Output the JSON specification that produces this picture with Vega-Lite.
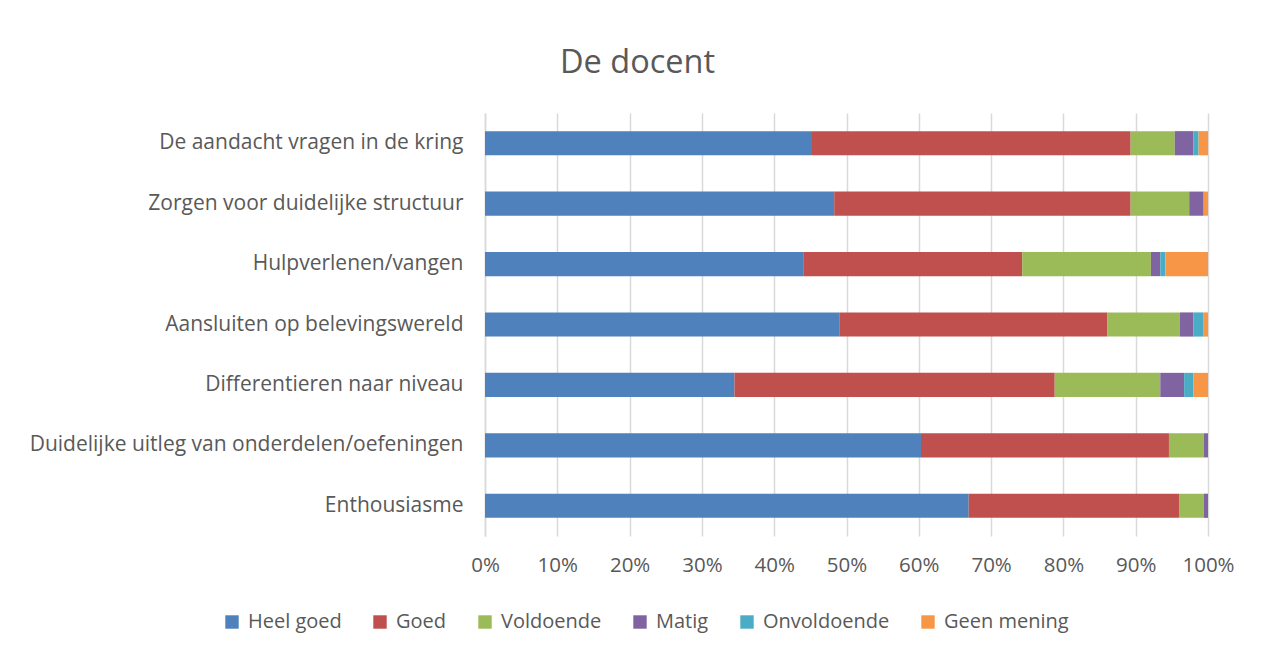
{
  "$schema": "https://vega.github.io/schema/vega-lite/v6.json",
  "width": 723,
  "height": 423,
  "autosize": {"type": "none"},
  "padding": {"left": 485, "top": 113, "right": 56, "bottom": 112},
  "background": "white",
  "title": {
    "text": "De docent",
    "fontSize": 32.5,
    "font": "Open Sans",
    "fontWeight": "normal",
    "color": "#595959",
    "anchor": "middle",
    "dx": -209,
    "offset": 34
  },
  "data": {
    "values": [
      {"item": "De aandacht vragen in de kring", "cat": "Heel goed", "value": 45.1},
      {"item": "De aandacht vragen in de kring", "cat": "Goed", "value": 44.2},
      {"item": "De aandacht vragen in de kring", "cat": "Voldoende", "value": 6.1},
      {"item": "De aandacht vragen in de kring", "cat": "Matig", "value": 2.6},
      {"item": "De aandacht vragen in de kring", "cat": "Onvoldoende", "value": 0.7},
      {"item": "De aandacht vragen in de kring", "cat": "Geen mening", "value": 1.3},
      {"item": "Zorgen voor duidelijke structuur", "cat": "Heel goed", "value": 48.3},
      {"item": "Zorgen voor duidelijke structuur", "cat": "Goed", "value": 41.0},
      {"item": "Zorgen voor duidelijke structuur", "cat": "Voldoende", "value": 8.1},
      {"item": "Zorgen voor duidelijke structuur", "cat": "Matig", "value": 2.0},
      {"item": "Zorgen voor duidelijke structuur", "cat": "Onvoldoende", "value": 0},
      {"item": "Zorgen voor duidelijke structuur", "cat": "Geen mening", "value": 0.6},
      {"item": "Hulpverlenen/vangen", "cat": "Heel goed", "value": 44.1},
      {"item": "Hulpverlenen/vangen", "cat": "Goed", "value": 30.2},
      {"item": "Hulpverlenen/vangen", "cat": "Voldoende", "value": 17.8},
      {"item": "Hulpverlenen/vangen", "cat": "Matig", "value": 1.3},
      {"item": "Hulpverlenen/vangen", "cat": "Onvoldoende", "value": 0.7},
      {"item": "Hulpverlenen/vangen", "cat": "Geen mening", "value": 5.9},
      {"item": "Aansluiten op belevingswereld", "cat": "Heel goed", "value": 49.0},
      {"item": "Aansluiten op belevingswereld", "cat": "Goed", "value": 37.1},
      {"item": "Aansluiten op belevingswereld", "cat": "Voldoende", "value": 10.0},
      {"item": "Aansluiten op belevingswereld", "cat": "Matig", "value": 1.9},
      {"item": "Aansluiten op belevingswereld", "cat": "Onvoldoende", "value": 1.4},
      {"item": "Aansluiten op belevingswereld", "cat": "Geen mening", "value": 0.6},
      {"item": "Differentieren naar niveau", "cat": "Heel goed", "value": 34.5},
      {"item": "Differentieren naar niveau", "cat": "Goed", "value": 44.3},
      {"item": "Differentieren naar niveau", "cat": "Voldoende", "value": 14.6},
      {"item": "Differentieren naar niveau", "cat": "Matig", "value": 3.3},
      {"item": "Differentieren naar niveau", "cat": "Onvoldoende", "value": 1.3},
      {"item": "Differentieren naar niveau", "cat": "Geen mening", "value": 2.0},
      {"item": "Duidelijke uitleg van onderdelen/oefeningen", "cat": "Heel goed", "value": 60.3},
      {"item": "Duidelijke uitleg van onderdelen/oefeningen", "cat": "Goed", "value": 34.3},
      {"item": "Duidelijke uitleg van onderdelen/oefeningen", "cat": "Voldoende", "value": 4.8},
      {"item": "Duidelijke uitleg van onderdelen/oefeningen", "cat": "Matig", "value": 0.6},
      {"item": "Duidelijke uitleg van onderdelen/oefeningen", "cat": "Onvoldoende", "value": 0},
      {"item": "Duidelijke uitleg van onderdelen/oefeningen", "cat": "Geen mening", "value": 0},
      {"item": "Enthousiasme", "cat": "Heel goed", "value": 66.9},
      {"item": "Enthousiasme", "cat": "Goed", "value": 29.1},
      {"item": "Enthousiasme", "cat": "Voldoende", "value": 3.4},
      {"item": "Enthousiasme", "cat": "Matig", "value": 0.6},
      {"item": "Enthousiasme", "cat": "Onvoldoende", "value": 0},
      {"item": "Enthousiasme", "cat": "Geen mening", "value": 0}
    ]
  },
  "transform": [
    {"calculate": "indexof(['Heel goed','Goed','Voldoende','Matig','Onvoldoende','Geen mening'], datum.cat)", "as": "ord"}
  ],
  "mark": {"type": "bar"},
  "encoding": {
    "y": {
      "field": "item",
      "type": "nominal",
      "sort": null,
      "scale": {"paddingInner": 0.6, "paddingOuter": 0.3},
      "axis": {
        "title": null,
        "ticks": false,
        "domain": true,
        "domainColor": "#d9d9d9",
        "domainWidth": 1.5,
        "labelFont": "Open Sans",
        "labelFontSize": 21,
        "labelColor": "#595959",
        "labelPadding": 22,
        "labelLimit": 600
      }
    },
    "x": {
      "field": "value",
      "type": "quantitative",
      "stack": "normalize",
      "scale": {"domain": [0, 1], "nice": false},
      "axis": {
        "title": null,
        "format": ".0%",
        "values": [0, 0.1, 0.2, 0.3, 0.4, 0.5, 0.6, 0.7, 0.8, 0.9, 1],
        "ticks": false,
        "domain": false,
        "grid": true,
        "gridColor": "#d9d9d9",
        "gridWidth": 1.5,
        "labelFont": "Open Sans",
        "labelFontSize": 20.5,
        "labelColor": "#595959",
        "labelPadding": 19,
        "labelFlush": false
      }
    },
    "color": {
      "field": "cat",
      "type": "nominal",
      "scale": {
        "domain": ["Heel goed", "Goed", "Voldoende", "Matig", "Onvoldoende", "Geen mening"],
        "range": ["#4F81BD", "#C0504D", "#9BBB59", "#8064A2", "#4BACC6", "#F79646"]
      },
      "legend": {
        "title": null,
        "orient": "none",
        "direction": "horizontal",
        "legendX": -263,
        "legendY": 499,
        "symbolType": "square",
        "symbolSize": 180,
        "symbolStrokeWidth": 0,
        "labelFont": "Open Sans",
        "labelFontSize": 20,
        "labelColor": "#595959",
        "labelOffset": 6,
        "columnPadding": 28,
        "labelLimit": 300
      }
    },
    "order": {"field": "ord", "type": "quantitative"}
  },
  "config": {
    "view": {"stroke": null}
  }
}
